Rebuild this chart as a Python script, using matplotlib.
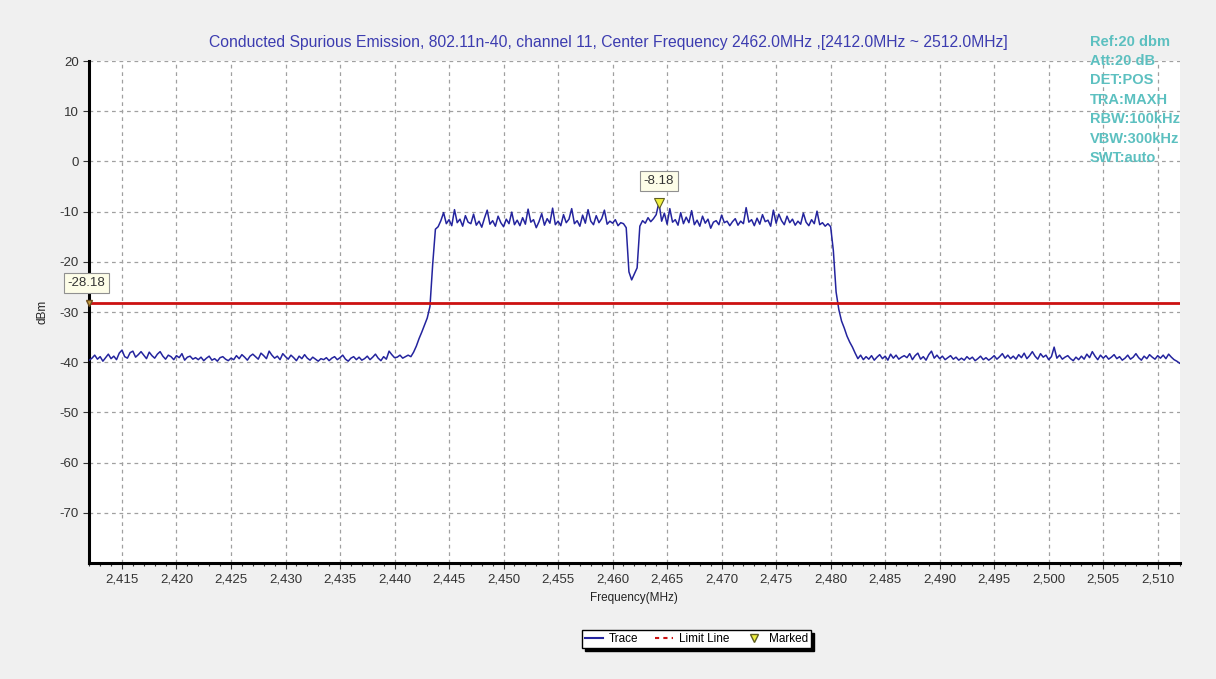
import numpy as np
import matplotlib
matplotlib.use("Agg")
import matplotlib.pyplot as plt
from matplotlib.lines import Line2D
from matplotlib.ticker import MultipleLocator, FuncFormatter

plt.rcParams['font.family'] = ['Liberation Sans', 'DejaVu Sans']
plt.rcParams['axes.unicode_minus'] = False

# sweep settings (spectrum analyser grid)
freq_start = 2412.0
freq_step = 0.25

# trace, dBm, one row = 5 MHz
trace_dbm = [
    -39.6, -39.2, -38.6, -39.4, -38.9, -39.8, -39.1, -38.4, -39.3, -38.8, -39.5, -38.2, -37.6, -38.9, -39.2, -38.1, -37.8, -39.0, -38.5, -37.9,
    -38.6, -39.3, -38.0, -38.7, -39.2, -38.4, -37.9, -38.8, -39.4, -38.6, -38.9, -39.5, -38.7, -39.1, -38.3, -39.6, -39.0, -38.8, -39.4, -39.1,
    -39.5, -39.0, -39.7, -39.2, -38.8, -39.6, -39.3, -39.8, -39.1, -38.9, -39.4, -39.7, -39.2, -39.5, -38.7, -39.3, -38.5, -39.0, -39.6, -38.8,
    -38.4, -38.9, -39.4, -38.2, -38.7, -39.3, -37.8, -38.6, -39.2, -38.8, -39.5, -38.3, -38.9, -39.4, -38.6, -39.1, -39.7, -38.8, -39.3, -38.5,
    -39.2, -39.6, -39.0, -39.4, -39.8, -39.3, -39.5, -39.1, -39.7, -39.2, -38.9, -39.5, -39.1, -38.6, -39.4, -39.8, -39.2, -38.9, -39.5, -39.0,
    -39.6, -39.3, -38.8, -39.5, -39.0, -38.4, -39.2, -39.7, -38.9, -39.4, -37.8, -38.5, -39.1, -39.0, -38.6, -39.2, -38.9, -38.6, -38.9, -38.0,
    -36.8, -35.3, -34.0, -32.6, -31.2, -28.9, -20.5, -13.5, -13.0, -11.8, -10.2, -12.4, -11.6, -12.8, -9.6, -12.2, -11.5, -12.9, -10.8, -12.1,
    -12.4, -10.5, -12.7, -11.9, -13.1, -11.3, -9.7, -12.5, -11.8, -12.9, -10.9, -12.2, -13.0, -11.5, -12.4, -10.1, -12.6, -11.7, -12.8, -11.2,
    -12.5, -9.5, -12.1, -11.6, -13.2, -12.0, -10.4, -12.7, -11.4, -12.3, -9.3, -12.6, -11.9, -12.8, -10.6, -12.2, -11.5, -9.4, -12.4, -11.8,
    -12.9, -10.7, -12.3, -9.6, -11.9, -12.6, -10.8, -12.2, -11.4, -9.7, -12.5, -11.9, -12.3, -11.6, -12.8, -12.2, -12.4, -13.2, -22.0, -23.6,
    -22.4, -21.2, -12.9, -11.8, -12.3, -11.2, -12.0, -11.4, -10.6, -8.18, -11.9, -10.3, -12.5, -9.4, -12.1, -11.6, -12.7, -10.2, -12.4, -11.1,
    -12.2, -9.8, -12.6, -11.7, -12.9, -10.9, -12.3, -11.5, -13.3, -12.1, -11.8, -12.6, -10.7, -12.2, -11.9, -12.8, -12.0, -11.4, -12.7, -11.9,
    -12.4, -9.2, -12.1, -11.6, -12.8, -11.3, -12.5, -10.6, -12.0, -11.7, -12.9, -9.7, -12.3, -10.5, -11.8, -12.6, -10.9, -12.2, -11.5, -12.7,
    -11.9, -12.5, -10.3, -12.1, -12.8, -11.6, -12.4, -9.9, -12.6, -12.2, -12.9, -12.4, -13.0, -17.8, -26.0, -29.5, -31.8, -33.2, -34.8, -36.0,
    -37.0, -38.2, -39.3, -38.6, -39.5, -38.9, -39.4, -38.7, -39.6, -39.0, -38.5, -39.3, -38.8, -39.6, -38.4, -39.2, -38.6, -39.4, -39.0, -38.7,
    -39.1, -38.3, -39.5, -38.7, -38.2, -39.4, -38.9, -39.6, -38.5, -37.8, -39.2, -38.6, -39.3, -38.8, -39.5, -39.1, -38.7, -39.4, -39.0, -39.6,
    -39.2, -39.6, -38.9, -39.4, -39.0, -39.7, -39.3, -38.8, -39.5, -39.1, -39.6, -39.2, -38.7, -39.4, -38.9, -38.3, -39.2, -38.6, -39.3, -38.8,
    -39.4, -38.5, -39.1, -38.2, -39.3, -38.7, -37.9, -38.8, -39.4, -38.3, -39.0, -38.6, -39.5, -38.9, -37.0, -39.2, -38.6, -39.4, -39.0, -38.7,
    -39.3, -39.7, -39.0, -39.5, -38.8, -39.4, -38.4, -39.1, -37.9, -38.8, -39.5, -38.6, -39.2, -38.7, -39.4, -39.0, -38.5, -39.3, -38.9, -39.6,
    -39.2, -38.6, -39.4, -39.0, -38.3, -39.1, -39.6, -38.8, -39.3, -38.5, -39.0, -39.4, -38.7, -39.2, -38.6, -39.3, -38.4, -39.0, -39.5, -39.8,
    -40.2,
]

limit_dbm = -28.18
marker_freq = 2464.25
marker_dbm = -8.18

x_range = [2412.0, 2512.0]
y_range = [-80, 20]
y_ticks = [20, 10, 0, -10, -20, -30, -40, -50, -60, -70]

title = "Conducted Spurious Emission, 802.11n-40, channel 11, Center Frequency 2462.0MHz ,[2412.0MHz ~ 2512.0MHz]"
settings = ["Ref:20 dbm", "Att:20 dB", "DET:POS", "TRA:MAXH", "RBW:100kHz", "VBW:300kHz", "SWT:auto"]

freqs = freq_start + freq_step * np.arange(len(trace_dbm))

fig = plt.figure(figsize=(12.16, 6.79), dpi=100, facecolor="#f0f0f0")
ax = fig.add_axes([0.0734, 0.171, 0.8966, 0.739])
ax.set_facecolor("white")

trace_col = "#24249e"
ax.plot(freqs, trace_dbm, color=trace_col, lw=1.1, zorder=3)
ax.axhline(limit_dbm, color="#cc1111", lw=2.0, zorder=4)
ax.plot([x_range[0]], [limit_dbm], marker="v", ms=4, color="#c8a040",
        mec="#705020", zorder=5, clip_on=False)
ax.plot([marker_freq], [marker_dbm], marker="v", ms=7, color="#f0f040",
        mec="#606020", mew=0.8, zorder=5)

box = dict(boxstyle="square,pad=0.3", fc="#fdfde8", ec="#909090", lw=0.8)
ax.annotate("%.2f" % limit_dbm, (x_range[0], limit_dbm), xytext=(-2, 14.5),
            textcoords="offset points", ha="center", va="center",
            fontsize=9.5, color="#333333", bbox=box, annotation_clip=False)
ax.annotate("%.2f" % marker_dbm, (marker_freq, marker_dbm), xytext=(0, 15.5),
            textcoords="offset points", ha="center", va="center",
            fontsize=9.5, color="#333333", bbox=box)

ax.set_xlim(x_range)
ax.set_ylim(y_range)
ax.xaxis.set_major_locator(MultipleLocator(5))
ax.xaxis.set_minor_locator(MultipleLocator(1))
ax.set_yticks(y_ticks)
ax.xaxis.set_major_formatter(FuncFormatter(lambda v, p: "{:,.0f}".format(v)))
ax.yaxis.set_major_formatter(FuncFormatter(lambda v, p: "%d" % v))

ax.grid(True, which="major", color="#a0a0a0", ls=(0, (3, 3)), lw=0.9)
for s in ["top", "right"]:
    ax.spines[s].set_visible(False)
for s in ["left", "bottom"]:
    ax.spines[s].set_linewidth(2.2)
    ax.spines[s].set_color("black")
ax.tick_params(which="major", length=4, width=0.8, colors="#333333", labelsize=9.5)
ax.tick_params(which="minor", length=2, width=0.8, color="#333333")

ax.set_xlabel("Frequency(MHz)", fontsize=8.5, color="#222222", labelpad=5)
ax.set_ylabel("dBm", fontsize=8.5, color="#222222", labelpad=8)

fig.text(0.5, 0.937, title, ha="center", va="center", fontsize=11.3, color="#3c3cb0")
fig.text(0.896, 0.949, "\n".join(settings), ha="left", va="top", fontsize=10.5,
         fontweight="bold", color="#5cc0c0", linespacing=1.49)

handles = [
    Line2D([], [], color=trace_col, lw=1.5),
    Line2D([], [], color="#cc1111", lw=1.5, ls=(0, (2, 2))),
    Line2D([], [], ls="none", marker="v", ms=6, color="#f0f040", mec="#606020"),
]
leg = fig.legend(handles, ["Trace", "Limit Line", "Marked"], loc="center",
                 bbox_to_anchor=(0.573, 0.059), ncol=3, fontsize=8.5,
                 frameon=True, fancybox=False,
                 shadow={"color": "black", "alpha": 1.0}, handlelength=1.5,
                 handletextpad=0.5, columnspacing=1.4, borderpad=0.25)
leg.get_frame().set_edgecolor("black")
leg.get_frame().set_linewidth(1.0)

fig.savefig("out.png", dpi=100, facecolor=fig.get_facecolor())
